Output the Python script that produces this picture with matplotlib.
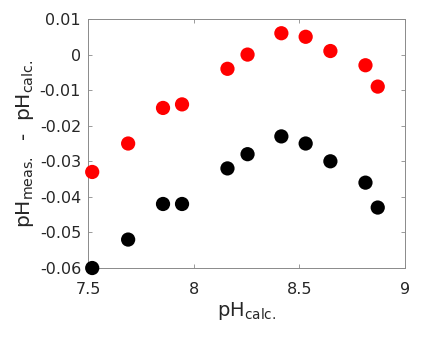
import numpy as np
import matplotlib.pyplot as plt

# data
ph_calc = [7.52, 7.69, 7.855, 7.945, 8.16, 8.255, 8.415, 8.53, 8.647, 8.813, 8.871]
diff_red = [-0.033, -0.025, -0.015, -0.014, -0.004, 0.0, 0.006, 0.005, 0.001, -0.003, -0.009]
diff_black = [-0.060, -0.052, -0.042, -0.042, -0.032, -0.028, -0.023, -0.025, -0.030, -0.036, -0.043]

xticks = [7.5, 8, 8.5, 9]
yticks = [-0.06, -0.05, -0.04, -0.03, -0.02, -0.01, 0, 0.01]
ytick_labels = ['-0.06', '-0.05', '-0.04', '-0.03', '-0.02', '-0.01', '0', '0.01']

txt = '#262626'
edge = '#8a8a8a'

fig = plt.figure(figsize=(4.22, 3.37), dpi=100)
ax = fig.add_axes([0.2085, 0.2047, 0.7512, 0.7389])

ax.scatter(ph_calc, diff_red, s=105, color='#ff0000', edgecolors='none', zorder=3, clip_on=False)
ax.scatter(ph_calc, diff_black, s=105, color='black', edgecolors='none', zorder=3, clip_on=False)

ax.set_xlim(7.5, 9)
ax.set_ylim(-0.06, 0.01)
ax.set_xticks(xticks)
ax.set_xticklabels(['7.5', '8', '8.5', '9'])
ax.set_yticks(yticks)
ax.set_yticklabels(ytick_labels)

ax.tick_params(direction='in', top=True, right=True, length=3, width=0.6,
               color=edge, labelsize=11.5, labelcolor=txt)
ax.tick_params(axis='x', pad=10)
ax.tick_params(axis='y', pad=5)
for sp in ax.spines.values():
    sp.set_color(edge)
    sp.set_linewidth(0.7)

ax.set_xlabel(r'pH$_{\mathregular{calc.}}$', fontsize=14, color=txt, labelpad=2)
ax.set_ylabel(r'pH$_{\mathregular{meas.}}$  -  pH$_{\mathregular{calc.}}$', fontsize=14.5,
              color=txt, labelpad=3)

fig.savefig('out.png', dpi=100)
